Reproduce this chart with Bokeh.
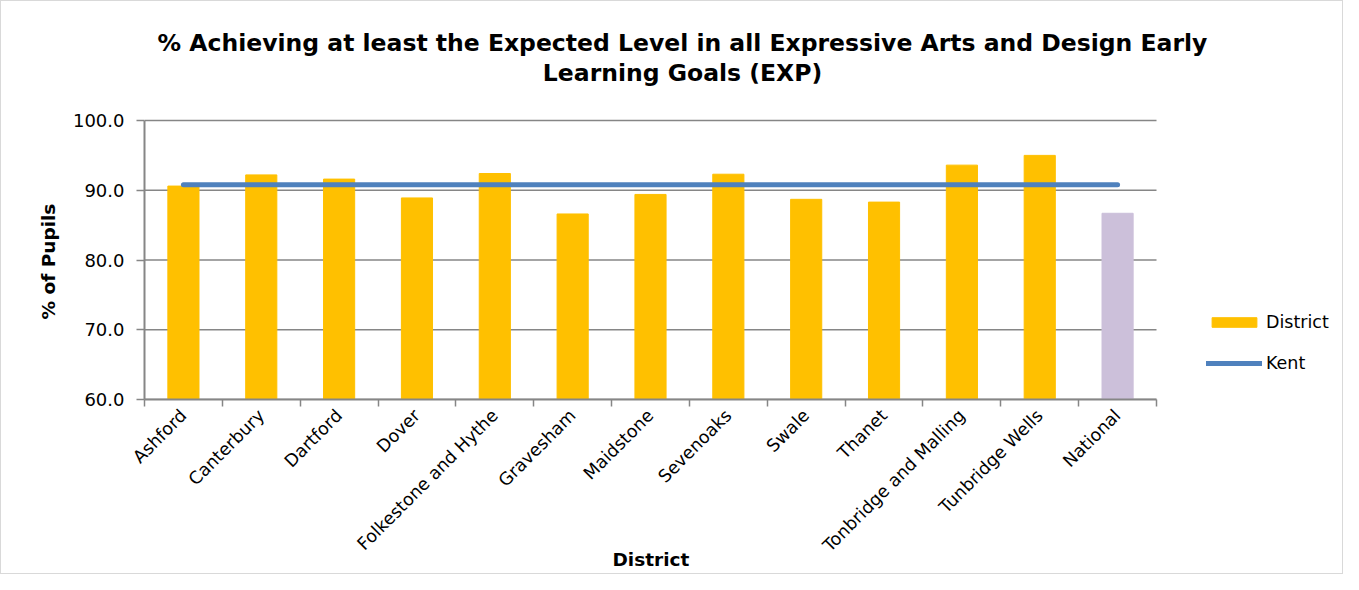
import math
from bokeh.plotting import figure
from bokeh.models import (Range1d, FixedTicker, Legend, LegendItem, ColumnDataSource,
                          Title, Label, NumeralTickFormatter)
from bokeh.embed import file_html
from bokeh.resources import INLINE

# ---- data ----
districts = ["Ashford", "Canterbury", "Dartford", "Dover", "Folkestone and Hythe",
             "Gravesham", "Maidstone", "Sevenoaks", "Swale", "Thanet",
             "Tonbridge and Malling", "Tunbridge Wells", "National"]
district_values = [90.6, 92.2, 91.6, 88.9, 92.4, 86.6, 89.4, 92.3, 88.7, 88.3, 93.6, 95.0, 86.7]
kent_value = 90.8
y_ticks = [60, 70, 80, 90, 100]
title_lines = ["% Achieving at least the Expected Level in all Expressive Arts and Design Early",
               "Learning Goals (EXP)"]
x_title = "District"
y_title = "% of Pupils"

FONT = "DejaVu Sans"
BAR = "#FFC000"
NAT = "#CCC0DA"
KENT = "#4F81BD"
GRID = "#868686"

# ---- layout in pixels ----
W, H = 1343, 574
LEFT, BOTTOM = 143, 176
PLOT_TOP_PX, PLOT_BOTTOM_PX = 119, 398      # y=100 and y=60
AXIS_PX = 1012                              # width of the category area
Y0, Y1 = y_ticks[0], y_ticks[-1]
n = len(districts)
px_per_cat = AXIS_PX / n
px_per_unit = (PLOT_BOTTOM_PX - PLOT_TOP_PX) / (Y1 - Y0)
x_end = (W - LEFT) / px_per_cat             # frame reaches under the legend
y_end = Y1 + PLOT_TOP_PX / px_per_unit      # frame reaches up under the title


def px_to_x(px):
    return (px - LEFT) / px_per_cat


def px_to_y(py):
    return Y1 + (PLOT_TOP_PX - py) / px_per_unit


xs = [i + 0.5 for i in range(n)]
colors = [NAT if d == "National" else BAR for d in districts]
src = ColumnDataSource(dict(x=xs, top=district_values, color=colors, name=districts))

p = figure(width=W, height=H, output_backend="svg", toolbar_location=None,
           x_range=Range1d(0, x_end), y_range=Range1d(Y0, y_end), title=None,
           min_border_left=LEFT, min_border_right=0, min_border_top=0,
           min_border_bottom=BOTTOM)
p.outline_line_color = None
p.background_fill_color = "white"
p.border_fill_color = "white"
p.styles = {"border": "1px solid #D9D9D9"}

# horizontal grid lines limited to the category area
p.xgrid.grid_line_color = None
p.ygrid.grid_line_color = None
p.segment(x0=0, x1=n, y0=y_ticks, y1=y_ticks, line_color=GRID, line_width=1.5)

bars = p.vbar(x="x", top="top", bottom=Y0, width=0.4, color="color", source=src)
kent_line = p.line(x=[xs[0], xs[-1]], y=[kent_value, kent_value], line_color=KENT,
                   line_width=5, line_cap="round")

# x axis
p.xaxis.bounds = (0, n)
p.xaxis.ticker = FixedTicker(ticks=xs, minor_ticks=list(range(n + 1)))
p.xaxis.major_label_overrides = {x: d for x, d in zip(xs, districts)}
p.xaxis.major_tick_line_color = None
p.xaxis.major_tick_out = 0
p.xaxis.major_tick_in = 0
p.xaxis.minor_tick_line_color = GRID
p.xaxis.minor_tick_line_width = 1.5
p.xaxis.minor_tick_out = 7
p.xaxis.minor_tick_in = 0
p.xaxis.major_label_orientation = math.pi / 4
p.xaxis.axis_line_color = GRID
p.xaxis.axis_line_width = 2
p.xaxis.major_label_text_font = FONT
p.xaxis.major_label_text_font_size = "17.5px"
p.xaxis.major_label_text_color = "black"
p.xaxis.major_label_standoff = 6

# y axis
p.yaxis.bounds = (Y0, Y1)
p.yaxis.ticker = FixedTicker(ticks=y_ticks)
p.yaxis.formatter = NumeralTickFormatter(format="0.0")
p.yaxis.minor_tick_line_color = None
p.yaxis.major_tick_line_color = GRID
p.yaxis.major_tick_line_width = 1.5
p.yaxis.major_tick_out = 8
p.yaxis.major_tick_in = 0
p.yaxis.axis_line_color = GRID
p.yaxis.axis_line_width = 2
p.yaxis.major_label_text_font = FONT
p.yaxis.major_label_text_font_size = "18px"
p.yaxis.major_label_text_color = "black"
p.yaxis.major_label_standoff = 12

# axis titles (as panel titles so they centre on the category / value area)
p.add_layout(Title(text=x_title, align="left", offset=468, standoff=-34,
                   vertical_align="top",
                   text_font=FONT, text_font_style="bold", text_font_size="18.5px",
                   text_color="black"), "below")
p.add_layout(Title(text=y_title, align="left", offset=80, standoff=21,
                   text_font=FONT, text_font_style="bold", text_font_size="18.5px",
                   text_color="black"), "left")

# chart title: two centred lines
for txt, py in zip(title_lines, [41, 71]):
    p.add_layout(Label(x=px_to_x(681), y=px_to_y(py), text=txt, text_align="center",
                       text_baseline="middle", text_font=FONT, text_font_style="bold",
                       text_font_size="23.5px", text_color="black"))

# legend (inside the extended frame, to the right of the categories)
legend = Legend(items=[LegendItem(label="District", renderers=[bars]),
                       LegendItem(label="Kent", renderers=[kent_line])],
                location=(1062, 26), glyph_width=56, glyph_height=12, spacing=21,
                label_text_font=FONT, label_text_font_size="17.5px", label_text_color="black",
                label_standoff=4,
                border_line_color=None, background_fill_alpha=0, margin=0, padding=0)
p.add_layout(legend, "center")

open("out.html", "w").write(file_html(p, INLINE))
